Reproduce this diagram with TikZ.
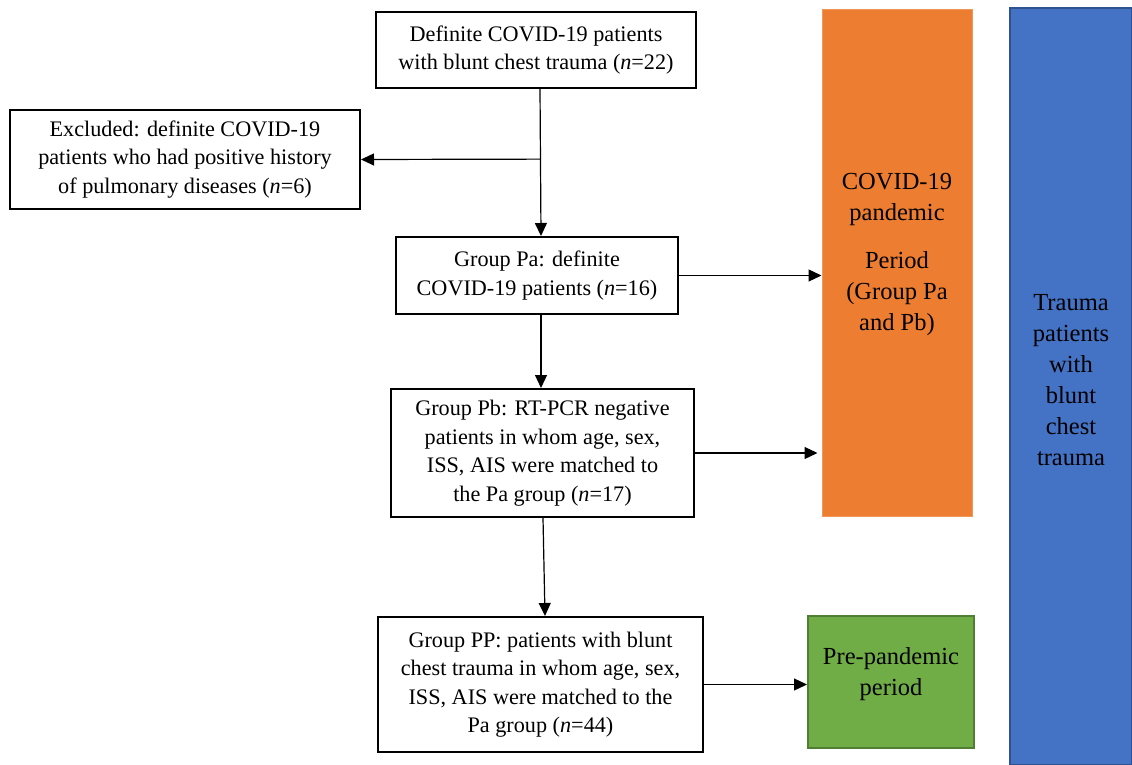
\documentclass[tikz,border=0pt]{standalone}
\usepackage{fontspec}
\setmainfont{Liberation Serif}
\usetikzlibrary{calc,positioning,arrows.meta}
\definecolor{myorange}{RGB}{237,125,49}
\definecolor{myblue}{RGB}{68,114,196}
\definecolor{mybluedark}{RGB}{47,82,143}
\definecolor{mygreen}{RGB}{112,173,71}
\definecolor{mygreendark}{RGB}{80,126,50}

\begin{document}
\begin{tikzpicture}[x=1pt,y=-1pt,
  box/.style={draw, line width=2pt, align=center, inner sep=2pt, font=\fontsize{22.2}{28.5}\selectfont},
  period/.style={align=center, inner sep=2pt, font=\fontsize{24.5}{31}\selectfont},
  arr/.style={-{Triangle[length=13pt,width=12pt]}, line width=1.2pt}]
  \useasboundingbox (0,0) rectangle (1132,765);

  % Flow boxes
  \node[box, minimum width=320pt, minimum height=76pt] (top) at (536,50)
    {Definite COVID-19 patients\\with blunt chest trauma (\textit{n}=22)};
  \node[box, minimum width=350pt, minimum height=99pt] (excl) at (185,159.5)
    {Excluded: definite COVID-19\\patients who had positive history\\of pulmonary diseases (\textit{n}=6)};
  \node[box, minimum width=282pt, minimum height=77pt] (pa) at (537,275.5)
    {Group Pa: definite\\COVID-19 patients (\textit{n}=16)};
  \node[box, minimum width=303pt, minimum height=128pt] (pb) at (542.5,453)
    {Group Pb: RT-PCR negative\\patients in whom age, sex,\\ISS, AIS were matched to\\the Pa group (\textit{n}=17)};
  \node[box, minimum width=325pt, minimum height=135pt] (pp) at (540.5,684.5)
    {Group PP: patients with blunt\\chest trauma in whom age, sex,\\ISS, AIS were matched to the\\Pa group (\textit{n}=44)};

  % Periods
  \node[fill=myorange, draw=myorange!80!white, line width=1pt, minimum width=150pt, minimum height=506pt] (pandemic) at (897,263) {};
  \node[period] (pandemictext) at (897,254) {COVID-19\\pandemic\\[17pt]Period\\(Group Pa\\and Pb)};
  \node[fill=mygreen, draw=mygreendark, line width=2pt, minimum width=166pt, minimum height=132pt] (prepandemic) at (891,682) {};
  \node[period] (prepandemictext) at (891,674) {Pre-pandemic\\period};
  \node[fill=myblue, draw=mybluedark, line width=1.5pt, minimum width=122pt, minimum height=757pt] (trauma) at (1071,386.5) {};
  \node[period] (traumatext) at (1071,380) {Trauma\\patients\\with\\blunt\\chest\\trauma};

  % Arrows
  \coordinate (split) at ($(top.south)!0.477!(pa.north)$);
  \draw[arr] ($(top.south)+(4,0)$) -- ($(pa.north)+(4,0)$);
  \draw[arr] ($(split)+(4,0)$) -- (excl.east);
  \draw[arr] (pa.east) -- (pa.east -| pandemic.west);
  \draw[arr] ($(pa.south)+(4,0)$) -- ($(pb.north)+(-1.5,0)$);
  \draw[arr, shorten >=4pt] (pb.east) -- (pb.east -| pandemic.west);
  \draw[arr] ($(pb.south)+(0.5,0)$) -- ($(pp.north)+(4.5,0)$);
  \draw[arr] (pp.east) -- (pp.east -| prepandemic.west);
\end{tikzpicture}
\end{document}
